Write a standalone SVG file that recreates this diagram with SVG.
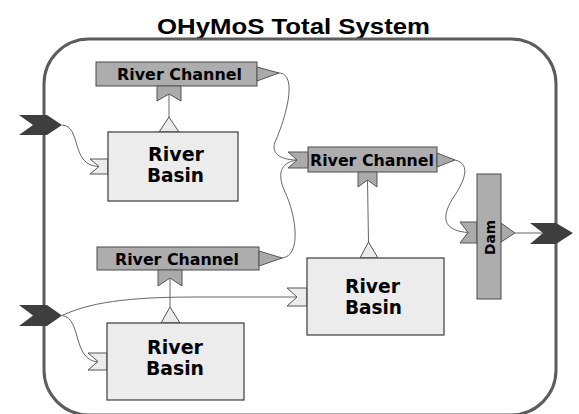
<svg xmlns="http://www.w3.org/2000/svg" width="579" height="414" viewBox="0 0 579 414">
<style>
.frame{fill:none;stroke:#5c5c5c;stroke-width:3}
.title{font-family:"Liberation Sans",Arial,sans-serif;font-weight:bold;font-size:22px;fill:#000}
.ch{fill:#adadad;stroke:#4a4a4a;stroke-width:1}
.bs{fill:#ececec;stroke:#3c3c3c;stroke-width:1.2}
.lp{fill:#ececec;stroke:#555;stroke-width:1}
.gp{fill:#aaaaaa;stroke:#555;stroke-width:1}
.dk{fill:#3e3e3e;stroke:none}
.lbl{font-family:"DejaVu Sans",Verdana,sans-serif;font-weight:bold;fill:#000}
.cn{fill:none;stroke:#666;stroke-width:1}
</style>
<text class="title" x="157" y="34" textLength="273" lengthAdjust="spacingAndGlyphs">OHyMoS Total System</text>
<rect class="frame" x="44" y="39" width="512" height="376" rx="45" ry="45"/>
<g id="connectors">
<path class="cn" d="M62,125 C82,126 70,166 99,166.5"/>
<path class="cn" d="M62,315.5 C82,318 72,360 98,362"/>
<path class="cn" d="M62,315.5 C95,300 140,297 200,297 L297,297"/>
<path class="cn" d="M169,94 L169,117"/>
<path class="cn" d="M170,278 L170,307"/>
<path class="cn" d="M367.5,180 L368.5,242"/>
<path class="cn" d="M279,73 C300,74 283,125 275,142 C270,156 285,160 297,160"/>
<path class="cn" d="M282,258 C302,256 296,215 285,192 C275,170 284,162 297,160"/>
<path class="cn" d="M455,160 C472,164 464,182 453,198 C438,222 448,231 468,232.5"/>
<path class="cn" d="M515,233 L543,233"/>
</g>
<g id="in1"><polygon class="dk" points="19,115 47,115 62,125 47,135 19,135 33,125"/></g>
<g id="in2"><polygon class="dk" points="19,305 47,305 62,315.5 47,326 19,326 33,315.5"/></g>
<g id="out"><polygon class="dk" points="530,223 556,223 573,233 556,244 530,244 543,233"/></g>
<g id="channel1">
<rect class="ch" x="96" y="62" width="161" height="24"/>
<polygon class="gp" points="257,67 279,73 257,81"/>
<polygon class="gp" points="157,86 181,86 181,101 169,94 157,101"/>
<text class="lbl" x="117" y="79.5" font-size="15.5" textLength="125" lengthAdjust="spacingAndGlyphs">River Channel</text>
</g>
<g id="channel2">
<rect class="ch" x="308" y="147" width="129" height="25"/>
<polygon class="gp" points="308,152 288,152 297,160 288,168 308,168"/>
<polygon class="gp" points="437,153 455,160 437,167"/>
<polygon class="gp" points="358,172 377,172 377,187 367.5,180 358,187"/>
<text class="lbl" x="310" y="165.5" font-size="15.5" textLength="124" lengthAdjust="spacingAndGlyphs">River Channel</text>
</g>
<g id="channel3">
<rect class="ch" x="97" y="247" width="162" height="23"/>
<polygon class="gp" points="259,251 282,258 259,266"/>
<polygon class="gp" points="158,270 182,270 182,286 170,278 158,286"/>
<text class="lbl" x="115" y="264.5" font-size="15.5" textLength="124" lengthAdjust="spacingAndGlyphs">River Channel</text>
</g>
<g id="basin1">
<polygon class="lp" points="159,132 169,117 179,132"/>
<polygon class="lp" points="108,159 90,159 99,166.5 90,174 108,174"/>
<rect class="bs" x="108" y="132" width="130" height="69"/>
<text class="lbl" x="148" y="161" font-size="19.5" textLength="56" lengthAdjust="spacingAndGlyphs">River</text>
<text class="lbl" x="147" y="182" font-size="19.5" textLength="57" lengthAdjust="spacingAndGlyphs">Basin</text>
</g>
<g id="basin2">
<polygon class="lp" points="360,258 368.5,242 378,258"/>
<polygon class="lp" points="307,288 287,288 297,297 287,306 307,306"/>
<rect class="bs" x="307" y="258" width="137" height="77"/>
<text class="lbl" x="345" y="293" font-size="19.5" textLength="55" lengthAdjust="spacingAndGlyphs">River</text>
<text class="lbl" x="345" y="314" font-size="19.5" textLength="57" lengthAdjust="spacingAndGlyphs">Basin</text>
</g>
<g id="basin3">
<polygon class="lp" points="161,323 170,307 180,323"/>
<polygon class="lp" points="107,353 88,353 98,361.5 88,370 107,370"/>
<rect class="bs" x="107" y="323" width="137" height="77"/>
<text class="lbl" x="147" y="354" font-size="19.5" textLength="56" lengthAdjust="spacingAndGlyphs">River</text>
<text class="lbl" x="146" y="375" font-size="19.5" textLength="58" lengthAdjust="spacingAndGlyphs">Basin</text>
</g>
<g id="dam">
<polygon class="gp" points="477,222 460,222 468,232.5 460,243 477,243"/>
<polygon class="gp" points="501,223 515,233 501,242"/>
<rect class="ch" x="477" y="174" width="24" height="125" fill="#a4a4a4"/>
<text class="lbl" x="0" y="0" font-size="14.5" transform="translate(494.5,255) rotate(-90)" textLength="35" lengthAdjust="spacingAndGlyphs">Dam</text>
</g>
</svg>
